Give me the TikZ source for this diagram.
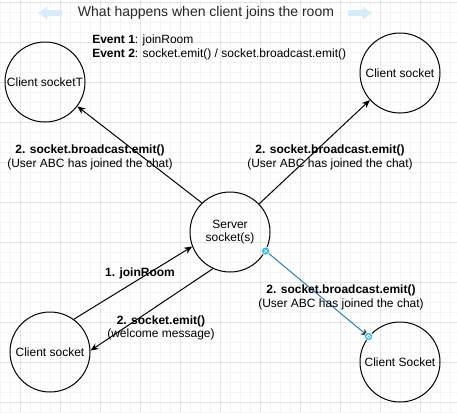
\documentclass[tikz,border=0pt]{standalone}
\usepackage{fontspec}
\setmainfont{Liberation Sans}
\usetikzlibrary{arrows.meta,positioning}
\definecolor{minorgrey}{RGB}{244,244,244}
\definecolor{majorgrey}{RGB}{226,226,226}
\definecolor{titleblue}{RGB}{214,236,250}
\definecolor{selblue}{RGB}{41,128,190}
\definecolor{handleblue}{RGB}{41,182,242}

\begin{document}
\begin{tikzpicture}[
    x=0.75pt, y=-0.75pt, % 以像素為單位
    sock/.style={draw,circle,line width=0.75pt,minimum size=60pt,inner sep=0pt,align=center,font=\fontsize{9}{10.2}\selectfont},
    lbl/.style={align=center,inner sep=0pt,font=\fontsize{9}{10.2}\selectfont},
    arrow/.style={-{Stealth[length=6pt,width=5pt]},line width=0.75pt},
    selarrow/.style={-{Stealth[length=6pt,width=5pt,color=black!80]},line width=0.75pt,selblue},
    titlearrow/.style={-{Triangle[length=7pt,width=9pt]},line width=4.5pt,titleblue},
    handle/.style={circle,fill=handleblue,draw=white,line width=0.5pt,minimum size=6.2pt,inner sep=0pt},
    minorgrid/.style={minorgrey,line width=0.5pt},
    majorgrid/.style={majorgrey,line width=0.6pt}
]
\useasboundingbox (0,0) rectangle (457,412);
\fill[white] (0,0) rectangle (457,412);

% Grid
\foreach \x in {0,10,...,450} {\draw[minorgrid] (\x,0) -- (\x,412);}
\foreach \y in {2,12,...,412} {\draw[minorgrid] (0,\y) -- (457,\y);}
\foreach \x in {20,60,...,420} {\draw[majorgrid] (\x,0) -- (\x,412);}
\foreach \y in {2,42,...,402} {\draw[majorgrid] (0,\y) -- (457,\y);}

% Title
\coordinate (tla) at (62,13);
\coordinate (tlb) at (38,13);
\coordinate (tra) at (348,13);
\coordinate (trb) at (372,13);
\draw[titlearrow] (tla) -- (tlb);
\draw[titlearrow] (tra) -- (trb);
\node[lbl,font=\fontsize{10.5}{12}\selectfont,text=black!85] (title) at (206,13) {What happens when client joins the room};
\node[lbl,align=left,anchor=west] (events) at (92,47.5) {\textbf{Event 1}: joinRoom\\\textbf{Event 2}: socket.emit() / socket.broadcast.emit()};

% Sockets
\node[sock] (srv) at (230,232) {Server\\socket(s)};
\node[sock] (tl) at (45,82) {Client socketT};
\node[sock] (tr) at (400,73) {Client socket};
\node[sock] (bl) at (50,352) {Client socket};
\node[sock] (br) at (400,362) {Client Socket};

% Connectors
\draw[arrow] (srv.134) -- (tl.-37);
\draw[arrow] (srv.44) -- (tr.222);
\draw[arrow] (bl.54) -- (srv.201);
\draw[arrow] (srv.245) -- (bl.2);
\draw[selarrow] (srv.-28) -- (br.141);
\node[handle,path picture={\draw[white,line width=0.5pt] ([shift={(-1.3pt,-1.3pt)}]path picture bounding box.center) -- ++(2.6pt,2.6pt) ([shift={(-1.3pt,1.3pt)}]path picture bounding box.center) -- ++(2.6pt,-2.6pt);}] (h1) at (srv.-28) {};
\node[handle,path picture={\draw[white,line width=0.6pt] (path picture bounding box.center) circle (1.4pt);}] (h2) at (br.141) {};

% Labels
\node[lbl] (ltl) at (90,157.5) {\textbf{2. socket.broadcast.emit()}\\(User ABC has joined the chat)};
\node[lbl] (ltr) at (330,157.5) {\textbf{2. socket.broadcast.emit()}\\(User ABC has joined the chat)};
\node[lbl] (ljoin) at (140,273) {\textbf{1. joinRoom}};
\node[lbl] (lemit) at (161,328) {\textbf{2. socket.emit()}\\(welcome message)};
\node[lbl] (lbr) at (341,297.5) {\textbf{2. socket.broadcast.emit()}\\(User ABC has joined the chat)};

\end{tikzpicture}
\end{document}
